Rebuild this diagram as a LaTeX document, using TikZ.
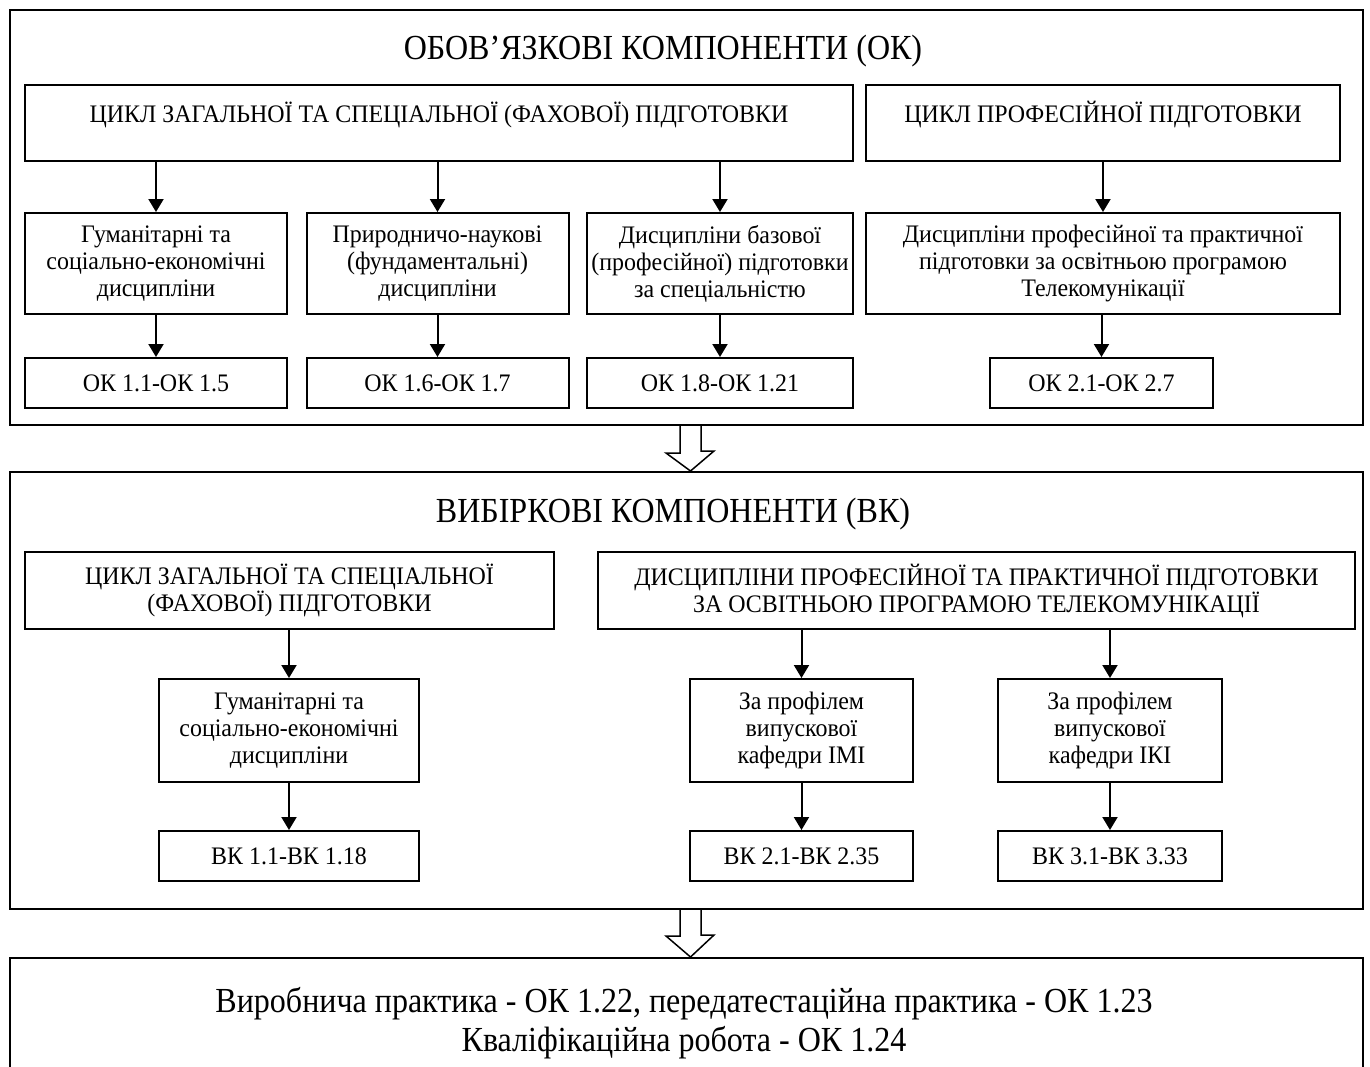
\documentclass[tikz,border=0pt]{standalone}
\usepackage{fontspec}
\setmainfont{Liberation Serif}
\newfontfamily\bodyfont{Liberation Serif}[FakeStretch=0.95]
\newfontfamily\ttlfont{Liberation Serif}[FakeStretch=0.91]
\usepackage{tikz}
\usetikzlibrary{arrows.meta,calc}
\tikzset{
  grpframe/.style = {draw, line width=1pt, inner sep=0pt},
  blk/.style = {draw, line width=1pt, inner sep=0pt, align=center,
    font=\bodyfont\fontsize{12.6}{13.5}\selectfont},
  ttl/.style = {inner sep=0pt, font=\ttlfont\fontsize{17.6}{19.5}\selectfont},
  bigarrow/.style = {draw, line width=0.75pt, -, line join=miter}
}

\begin{document}
\begin{tikzpicture}[->,>={Triangle[length=6.5pt,width=7.5pt]}, line width=1pt,
  x=0.5pt, y=-0.5pt]
\useasboundingbox (0,0) rectangle (1370,1066);

% ОК
\node[grpframe, minimum width=676.5pt, minimum height=207.5pt] (ok) at (686.5,217.5) {};
\node[ttl, anchor=base] (okttl) at (663,59) {ОБОВ’ЯЗКОВІ КОМПОНЕНТИ (ОК)};
\node[blk, anchor=base, minimum width=414pt, text height=18.5pt, text depth=19.5pt]
  (okgen) at (439,122) {ЦИКЛ ЗАГАЛЬНОЇ ТА СПЕЦІАЛЬНОЇ (ФАХОВОЇ) ПІДГОТОВКИ};
\node[blk, anchor=base, minimum width=237pt, text height=18.5pt, text depth=19.5pt]
  (okprof) at (1103,122) {ЦИКЛ ПРОФЕСІЙНОЇ ПІДГОТОВКИ};

\node[blk, minimum width=131pt, minimum height=50.5pt] (okhum) at (156,263.5)
  {Гуманітарні та\\соціально-економічні\\дисципліни};
\node[blk, minimum width=131pt, minimum height=50.5pt] (oknat) at (437.5,263.5)
  {Природничо-наукові\\(фундаментальні)\\дисципліни};
\node[blk, minimum width=133pt, minimum height=50.5pt] (okbas) at (720,263.5)
  {Дисципліни базової\\(професійної) підготовки\\за спеціальністю};
\node[blk, minimum width=237pt, minimum height=50.5pt] (okprg) at (1103,263.5)
  {Дисципліни професійної та практичної\\підготовки за освітньою програмою\\Телекомунікації};

\node[blk, minimum width=131pt, minimum height=25pt] (okc1) at (156,383) {ОК 1.1-ОК 1.5};
\node[blk, minimum width=131pt, minimum height=25pt] (okc2) at (437.5,383) {ОК 1.6-ОК 1.7};
\node[blk, minimum width=133pt, minimum height=25pt] (okc3) at (720,383) {ОК 1.8-ОК 1.21};
\node[blk, minimum width=111.5pt, minimum height=25pt] (okc4) at (1101.5,383) {ОК 2.1-ОК 2.7};

\draw (okhum.north |- okgen.south) -- (okhum.north);
\draw (oknat.north |- okgen.south) -- (oknat.north);
\draw (okbas.north |- okgen.south) -- (okbas.north);
\draw (okprof.south) -- (okprg.north);
\draw (okhum.south) -- (okc1.north);
\draw (oknat.south) -- (okc2.north);
\draw (okbas.south) -- (okc3.north);
\draw (okc4.north |- okprg.south) -- (okc4.north);

% ВК
\node[grpframe, minimum width=676.5pt, minimum height=218.5pt] (vk) at (686.5,690.5) {};
\node[ttl, anchor=base] (vkttl) at (673,522) {ВИБІРКОВІ КОМПОНЕНТИ (ВК)};
\node[blk, minimum width=264.5pt, minimum height=38.5pt] (vkgen) at (289.5,590.5)
  {ЦИКЛ ЗАГАЛЬНОЇ ТА СПЕЦІАЛЬНОЇ\\(ФАХОВОЇ) ПІДГОТОВКИ};
\node[blk, minimum width=378.5pt, minimum height=38.5pt] (vkprof) at (976.5,590.5)
  {ДИСЦИПЛІНИ ПРОФЕСІЙНОЇ ТА ПРАКТИЧНОЇ ПІДГОТОВКИ\\ЗА ОСВІТНЬОЮ ПРОГРАМОЮ ТЕЛЕКОМУНІКАЦІЇ};

\node[blk, minimum width=130pt, minimum height=51.5pt] (vkhum) at (289,730.5)
  {Гуманітарні та\\соціально-економічні\\дисципліни};
\node[blk, minimum width=111.5pt, minimum height=51.5pt] (vkimi) at (801.5,730.5)
  {За профілем\\випускової\\кафедри ІМІ};
\node[blk, minimum width=112pt, minimum height=51.5pt] (vkiki) at (1110,730.5)
  {За профілем\\випускової\\кафедри ІКІ};

\node[blk, minimum width=130pt, minimum height=25pt] (vkc1) at (289,856) {ВК 1.1-ВК 1.18};
\node[blk, minimum width=111.5pt, minimum height=25pt] (vkc2) at (801.5,856) {ВК 2.1-ВК 2.35};
\node[blk, minimum width=112pt, minimum height=25pt] (vkc3) at (1110,856) {ВК 3.1-ВК 3.33};

\draw (vkhum.north |- vkgen.south) -- (vkhum.north);
\draw (vkimi.north |- vkprof.south) -- (vkimi.north);
\draw (vkiki.north |- vkprof.south) -- (vkiki.north);
\draw (vkhum.south) -- (vkc1.north);
\draw (vkimi.south) -- (vkc2.north);
\draw (vkiki.south) -- (vkc3.north);

% практика
\node[grpframe, anchor=north, minimum width=676.5pt, minimum height=100pt] (pr) at (686.5,957) {};
\node[ttl, anchor=base] (prtxt1) at (684,1012)
  {Виробнича практика - ОК 1.22, передатестаційна практика - ОК 1.23};
\node[ttl, anchor=base] (prtxt2) at (684,1051) {Кваліфікаційна робота - ОК 1.24};

% block arrows
\draw[bigarrow] ($(ok.south)+(-6.5,0)$) -- ++(0,27) -- ++(-14,0) -- ($(vk.north)+(4,0)$)
  -- ++(23.5,-20) -- ++(-13,0) -- ($(ok.south)+(14.5,0)$);
\draw[bigarrow] ($(vk.south)+(-6.5,0)$) -- ++(0,26) -- ++(-14,0) -- ($(pr.north)+(4,0)$)
  -- ++(23.5,-22) -- ++(-13,0) -- ($(vk.south)+(14.5,0)$);
\end{tikzpicture}
\end{document}
